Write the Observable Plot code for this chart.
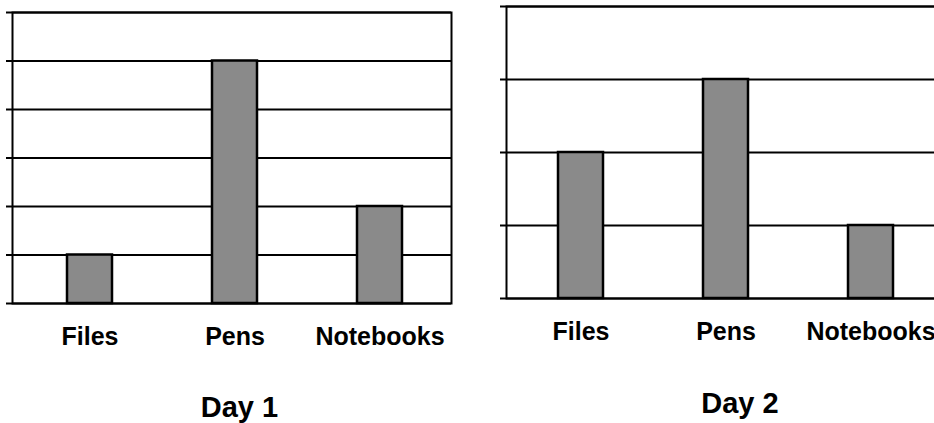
<!DOCTYPE html>
<html>
<head>
<meta charset="utf-8">
<script src="https://cdn.jsdelivr.net/npm/d3@7"></script>
<script src="https://cdn.jsdelivr.net/npm/@observablehq/plot@0.6"></script>
<style>
  html, body { margin: 0; padding: 0; background: #fff; }
  #wrap { position: relative; width: 934px; height: 423px; overflow: hidden; background: #fff; }
  .chart { position: absolute; top: 0; }
  .cap { position: absolute; font-family: "Liberation Sans", Arial, sans-serif; font-weight: bold; font-size: 29px; line-height: 29px; text-align: center; width: 160px; color: #000; }
</style>
</head>
<body>
<div id="wrap"></div>
<script>
const categories = ["Files", "Pens", "Notebooks"];
const day1Values = [1, 5, 2];
const day2Values = [2, 3, 1];
const day1Ticks = [0, 1, 2, 3, 4, 5, 6];
const day2Ticks = [0, 1, 2, 3, 4];
const captions = ["Day 1", "Day 2"];

const wrap = document.getElementById("wrap");

function makeChart(values, ticks, opts) {
  const data = categories.map((c, i) => ({item: c, value: values[i]}));
  return Plot.plot({
    width: opts.width,
    height: opts.height,
    marginTop: opts.marginTop,
    marginBottom: opts.height - opts.bottom,
    marginLeft: opts.marginLeft,
    marginRight: opts.marginRight,
    style: {fontFamily: "'Liberation Sans', Arial, sans-serif", fontSize: "25px", fontWeight: "bold", color: "#000", background: "transparent", overflow: "visible"},
    x: {domain: categories, range: opts.xRange, paddingInner: 0.69, paddingOuter: 0},
    y: {domain: [0, ticks[ticks.length - 1]]},
    marks: [
      Plot.gridY(ticks, {stroke: "#000", strokeOpacity: 1, strokeWidth: 2}),
      Plot.axisY({ticks, tickSize: 6, tickFormat: () => "", stroke: "#000", strokeWidth: 2, label: null}),
      Plot.frame({stroke: "#000", strokeWidth: 2}),
      Plot.barY(data, {x: "item", y: "value", fill: "#8a8a8a", stroke: "#000", strokeWidth: 2.5}),
      Plot.axisX({tickSize: 0, tickPadding: 24, label: null, fill: "#000"})
    ]
  });
}

const c1 = makeChart(day1Values, day1Ticks, {width: 467, height: 360, marginTop: 12, bottom: 303, marginLeft: 12, marginRight: 16, xRange: [66, 403]});
c1.classList.add("chart");
c1.style.left = "0px";
wrap.appendChild(c1);

const c2 = makeChart(day2Values, day2Ticks, {width: 510, height: 355, marginTop: 6, bottom: 298, marginLeft: 39, marginRight: 10, xRange: [91, 426]});
c2.classList.add("chart");
c2.style.left = "467px";
wrap.appendChild(c2);

const capPos = [{cx: 239.5, top: 392.5}, {cx: 740, top: 388.5}];
captions.forEach((t, i) => {
  const d = document.createElement("div");
  d.className = "cap";
  d.textContent = t;
  d.style.left = (capPos[i].cx - 80) + "px";
  d.style.top = capPos[i].top + "px";
  wrap.appendChild(d);
});
</script>
</body>
</html>
